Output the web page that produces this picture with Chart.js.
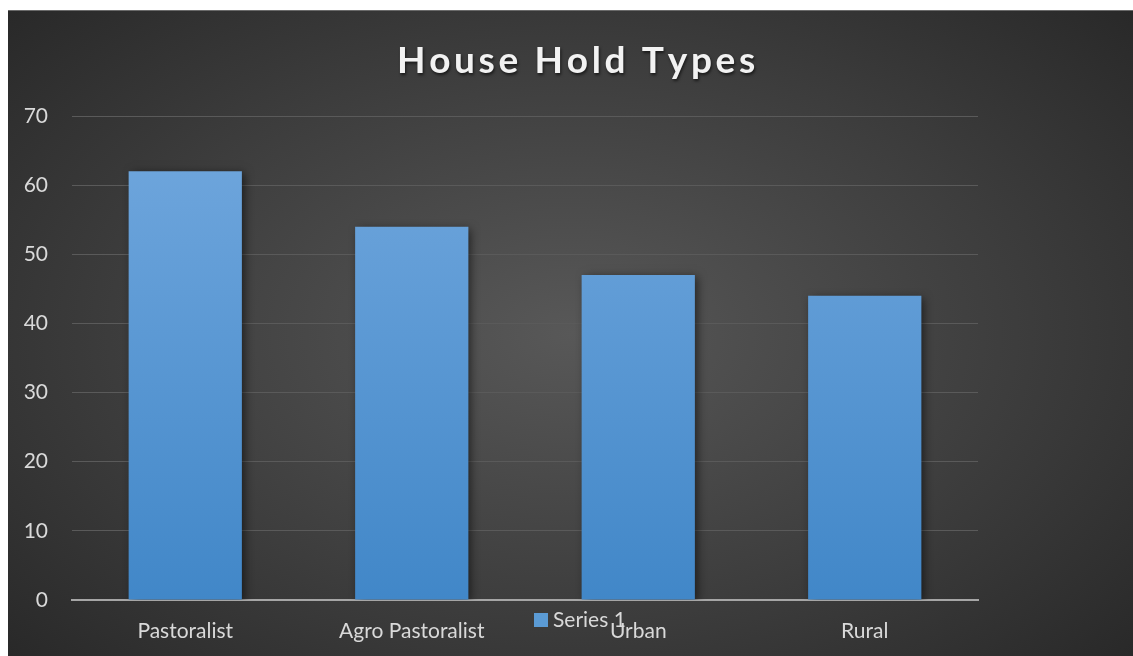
<!DOCTYPE html>
<html>
<head>
<meta charset="utf-8">
<script src="https://cdn.jsdelivr.net/npm/chart.js@4.4.1/dist/chart.umd.min.js"></script>
<style>
  html, body { margin: 0; padding: 0; background: #fff; }
  #wrap {
    position: absolute; left: 8px; top: 10px; width: 1125px; height: 646px;
    background: radial-gradient(ellipse 72% 78% at 50% 50%, #585858 0%, #3d3d3d 55%, #262626 100%);
    border-top: 1px solid #6a6a6a;
    box-sizing: border-box;
  }
  canvas { display: block; }
</style>
</head>
<body>
<div id="wrap"><canvas id="householdChart" width="1125" height="645"></canvas></div>
<script>
// household types survey
const categories = ['Pastoralist', 'Agro Pastoralist', 'Urban', 'Rural'];
const series1 = [62, 54, 47, 44];
const yTicks = [0, 10, 20, 30, 40, 50, 60, 70];
const chartTitle = 'House Hold Types';
const seriesName = 'Series 1';

const textColor = '#d9d9d9';
const fontFamily = 'Lato, "Open Sans", sans-serif';

// title with letter spacing, drawn by hand since Chart.js has no option for it
const titlePlugin = {
  id: 'spacedTitle',
  afterDraw(chart) {
    const ctx = chart.ctx;
    const left = 389, width = 354;
    ctx.save();
    ctx.font = 'bold 37px ' + fontFamily;
    const plain = ctx.measureText(chartTitle).width;
    const spacing = (width - plain) / (chartTitle.length - 1);
    ctx.fillStyle = '#f2f2f2';
    ctx.textAlign = 'left';
    ctx.textBaseline = 'alphabetic';
    ctx.shadowColor = 'rgba(0,0,0,0.6)';
    ctx.shadowBlur = 3;
    ctx.shadowOffsetX = 1;
    ctx.shadowOffsetY = 2;
    let x = left;
    for (const ch of chartTitle) {
      ctx.fillText(ch, x, 62);
      x += ctx.measureText(ch).width + spacing;
    }
    ctx.restore();
  }
};

// legend sits on top of the category labels, like the original sheet
const legendPlugin = {
  id: 'overlapLegend',
  afterDraw(chart) {
    const ctx = chart.ctx;
    const ds = chart.data.datasets[0];
    ctx.save();
    ctx.fillStyle = '#5b9bd5';
    ctx.fillRect(526, 602, 14, 14);
    ctx.font = '21px ' + fontFamily;
    ctx.fillStyle = textColor;
    ctx.textAlign = 'left';
    ctx.textBaseline = 'middle';
    ctx.fillText(ds.label, 545, 609);
    ctx.restore();
  }
};

// soft shadow behind the bars
const shadowPlugin = {
  id: 'barShadow',
  beforeDatasetsDraw(chart) {
    const ctx = chart.ctx;
    ctx.save();
    ctx.shadowColor = 'rgba(0,0,0,0.55)';
    ctx.shadowBlur = 9;
    ctx.shadowOffsetX = 3;
    ctx.shadowOffsetY = 2;
  },
  afterDatasetsDraw(chart) {
    chart.ctx.restore();
  }
};

const canvas = document.getElementById('householdChart');

new Chart(canvas, {
  type: 'bar',
  data: {
    labels: categories,
    datasets: [{
      label: seriesName,
      data: series1,
      backgroundColor: (c) => {
        const area = c.chart.chartArea;
        if (!area) return '#5b9bd5';
        const g = c.chart.ctx.createLinearGradient(0, area.top, 0, area.bottom);
        g.addColorStop(0, '#72a8de');
        g.addColorStop(1, '#4187c8');
        return g;
      },
      borderWidth: 0,
      categoryPercentage: 1,
      barPercentage: 0.5
    }]
  },
  options: {
    responsive: false,
    animation: false,
    layout: { padding: { left: 0, right: 155, top: 105, bottom: 0 } },
    plugins: {
      legend: { display: false },
      title: { display: false },
      tooltip: { enabled: false }
    },
    scales: {
      x: {
        grid: { display: false, drawTicks: false },
        border: { color: '#a6a6a6', width: 2 },
        ticks: {
          color: textColor,
          font: { family: fontFamily, size: 21 },
          padding: 19,
          maxRotation: 0
        },
        afterFit(scale) { scale.height = 56; }
      },
      y: {
        min: 0,
        max: 70,
        afterBuildTicks(scale) { scale.ticks = yTicks.map(v => ({ value: v })); },
        grid: { color: '#5a5a5a', lineWidth: 1, drawTicks: false },
        border: { display: false },
        ticks: {
          color: textColor,
          font: { family: fontFamily, size: 21 },
          padding: 24
        },
        afterFit(scale) { scale.width = 64; }
      }
    }
  },
  plugins: [shadowPlugin, titlePlugin, legendPlugin]
});
</script>
</body>
</html>
